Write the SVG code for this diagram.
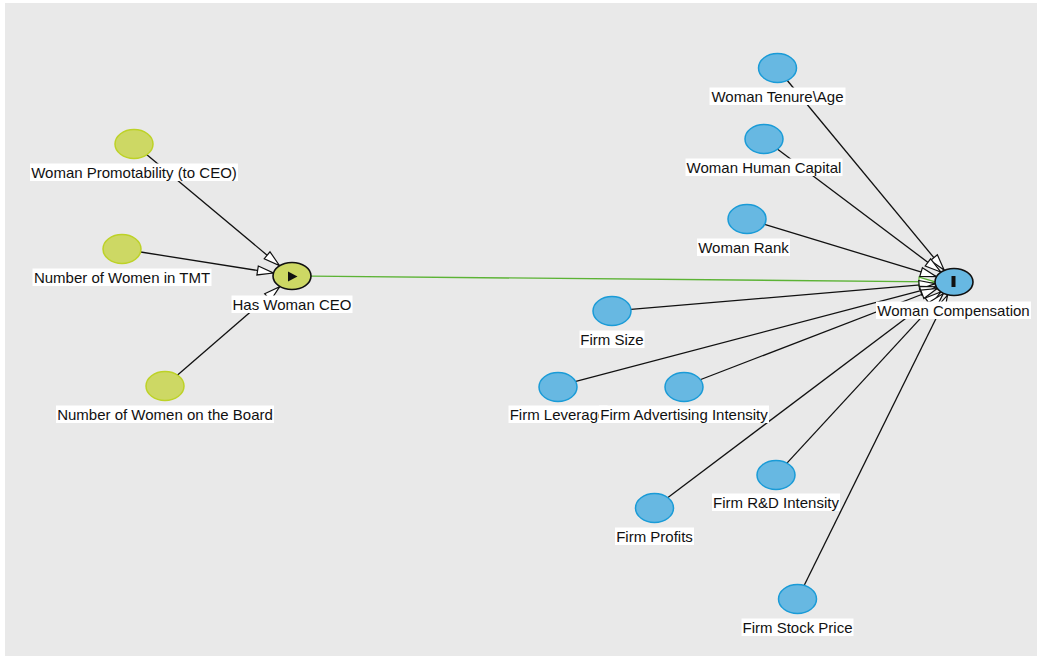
<svg xmlns="http://www.w3.org/2000/svg" width="1037" height="656" viewBox="0 0 1037 656">
  <style>
    .edge { stroke: #111; stroke-width: 1.3; fill: none; }
    .edge.main { stroke: #5cb335; }
    .nd-g { fill: #cdd864; stroke: #bdd227; stroke-width: 1.5; }
    .nd-b { fill: #67b8e2; stroke: #1a9bd7; stroke-width: 1.5; }
    .nd-key { stroke: #111; stroke-width: 1.6; }
    .lbl-bg { fill: #ffffff; }
    .lbl { font-family: "Liberation Sans", Arial, sans-serif; font-size: 15px; fill: #111; text-anchor: middle; }
  </style>
  <defs>
    <marker id="open" markerUnits="userSpaceOnUse" markerWidth="18" markerHeight="12" refX="16" refY="4.5" orient="auto" overflow="visible">
      <path d="M0,0 L16,4.5 L0,9 z" fill="#fff" stroke="#111" stroke-width="1.2"/>
    </marker>
    <marker id="open-g" markerUnits="userSpaceOnUse" markerWidth="18" markerHeight="12" refX="16" refY="4.5" orient="auto" overflow="visible">
      <path d="M0,0 L16,4.5 L0,9 z" fill="#fff" stroke="#5cb335" stroke-width="1.2"/>
    </marker>
  </defs>

  <rect x="5" y="3" width="1032" height="653" fill="#e9e9e9"/>

  <g id="connectors">
    <line class="edge" x1="146.6" y1="154.5" x2="279.4" y2="265.5" marker-end="url(#open)"/>
    <line class="edge" x1="140.6" y1="252" x2="273.4" y2="273" marker-end="url(#open)"/>
    <line class="edge" x1="177.3" y1="375.3" x2="279.7" y2="286.7" marker-end="url(#open)"/>
    <line class="edge main" x1="311" y1="276.2" x2="935" y2="281.8" marker-end="url(#open-g)"/>
    <line class="edge" x1="786.9" y1="80" x2="944.1" y2="270" marker-end="url(#open)"/>
    <line class="edge" x1="777.3" y1="149" x2="940.7" y2="272" marker-end="url(#open)"/>
    <line class="edge" x1="764.6" y1="224.3" x2="936.4" y2="276.7" marker-end="url(#open)"/>
    <line class="edge" x1="630.9" y1="309.4" x2="935.1" y2="283.6" marker-end="url(#open)"/>
    <line class="edge" x1="575.9" y1="381.3" x2="936.1" y2="286.7" marker-end="url(#open)"/>
    <line class="edge" x1="700.8" y1="379.5" x2="937.2" y2="288.5" marker-end="url(#open)"/>
    <line class="edge" x1="667.3" y1="498" x2="940.7" y2="292" marker-end="url(#open)"/>
    <line class="edge" x1="786.7" y1="463.4" x2="943.3" y2="293.6" marker-end="url(#open)"/>
    <line class="edge" x1="803.5" y1="586.8" x2="947.5" y2="295.2" marker-end="url(#open)"/>
  </g>

  <g id="n-promotability">
    <ellipse class="nd-g" cx="134" cy="144" rx="19" ry="14.5"/>
    <rect class="lbl-bg" x="30" y="163.5" width="208" height="17.5"/>
    <text class="lbl" x="134" y="178">Woman Promotability (to CEO)</text>
  </g>
  <g id="n-women-tmt">
    <ellipse class="nd-g" cx="122" cy="249" rx="19" ry="14.5"/>
    <rect class="lbl-bg" x="32.5" y="268.5" width="179" height="17.5"/>
    <text class="lbl" x="122" y="283">Number of Women in TMT</text>
  </g>
  <g id="n-women-board">
    <ellipse class="nd-g" cx="165" cy="386" rx="19" ry="14.5"/>
    <rect class="lbl-bg" x="56" y="405.5" width="218" height="17.5"/>
    <text class="lbl" x="165" y="420">Number of Women on the Board</text>
  </g>
  <g id="n-has-ceo">
    <ellipse class="nd-g nd-key" cx="292" cy="276" rx="19" ry="13.5"/>
    <path d="M288,271.5 L297.5,276.5 L288,281.5 z" fill="#111"/>
    <rect class="lbl-bg" x="231.5" y="295.5" width="121" height="17.5"/>
    <text class="lbl" x="292" y="310">Has Woman CEO</text>
  </g>

  <g id="n-tenure">
    <ellipse class="nd-b" cx="777.5" cy="68" rx="19" ry="14.5"/>
    <rect class="lbl-bg" x="709.5" y="87.5" width="136" height="17.5"/>
    <text class="lbl" x="777.5" y="102">Woman Tenure\Age</text>
  </g>
  <g id="n-human-capital">
    <ellipse class="nd-b" cx="764" cy="139" rx="19" ry="14.5"/>
    <rect class="lbl-bg" x="685.5" y="158.5" width="157" height="17.5"/>
    <text class="lbl" x="764" y="173">Woman Human Capital</text>
  </g>
  <g id="n-rank">
    <ellipse class="nd-b" cx="747" cy="219" rx="19" ry="14.5"/>
    <rect class="lbl-bg" x="697" y="238.5" width="93" height="17.5"/>
    <text class="lbl" x="743.5" y="253">Woman Rank</text>
  </g>
  <g id="n-compensation">
    <ellipse class="nd-b nd-key" cx="954" cy="282" rx="19" ry="13.5"/>
    <rect x="951.5" y="276" width="4" height="11" fill="#111"/>
    <rect class="lbl-bg" x="876" y="301.5" width="155" height="17.5"/>
    <text class="lbl" x="953.5" y="316">Woman Compensation</text>
  </g>
  <g id="n-size">
    <ellipse class="nd-b" cx="612" cy="311" rx="19" ry="14.5"/>
    <rect class="lbl-bg" x="579.5" y="330.5" width="65" height="17.5"/>
    <text class="lbl" x="612" y="345">Firm Size</text>
  </g>
  <g id="n-leverage">
    <ellipse class="nd-b" cx="558" cy="387" rx="19" ry="14.5"/>
    <rect class="lbl-bg" x="508.5" y="405.5" width="99" height="17.5"/>
    <text class="lbl" x="558" y="420">Firm Leverage</text>
  </g>
  <g id="n-advertising">
    <ellipse class="nd-b" cx="684" cy="387" rx="19" ry="14.5"/>
    <rect class="lbl-bg" x="599" y="405.5" width="170" height="17.5"/>
    <text class="lbl" x="684" y="420">Firm Advertising Intensity</text>
  </g>
  <g id="n-profits">
    <ellipse class="nd-b" cx="654.5" cy="508" rx="19" ry="14.5"/>
    <rect class="lbl-bg" x="615" y="527.5" width="79" height="17.5"/>
    <text class="lbl" x="654.5" y="542">Firm Profits</text>
  </g>
  <g id="n-rd">
    <ellipse class="nd-b" cx="776" cy="475" rx="19" ry="14.5"/>
    <rect class="lbl-bg" x="712" y="493.5" width="128" height="17.5"/>
    <text class="lbl" x="776" y="508">Firm R&amp;D Intensity</text>
  </g>
  <g id="n-stock-price">
    <ellipse class="nd-b" cx="797.5" cy="599" rx="19" ry="14.5"/>
    <rect class="lbl-bg" x="741.5" y="618.5" width="112" height="17.5"/>
    <text class="lbl" x="797.5" y="633">Firm Stock Price</text>
  </g>
</svg>
